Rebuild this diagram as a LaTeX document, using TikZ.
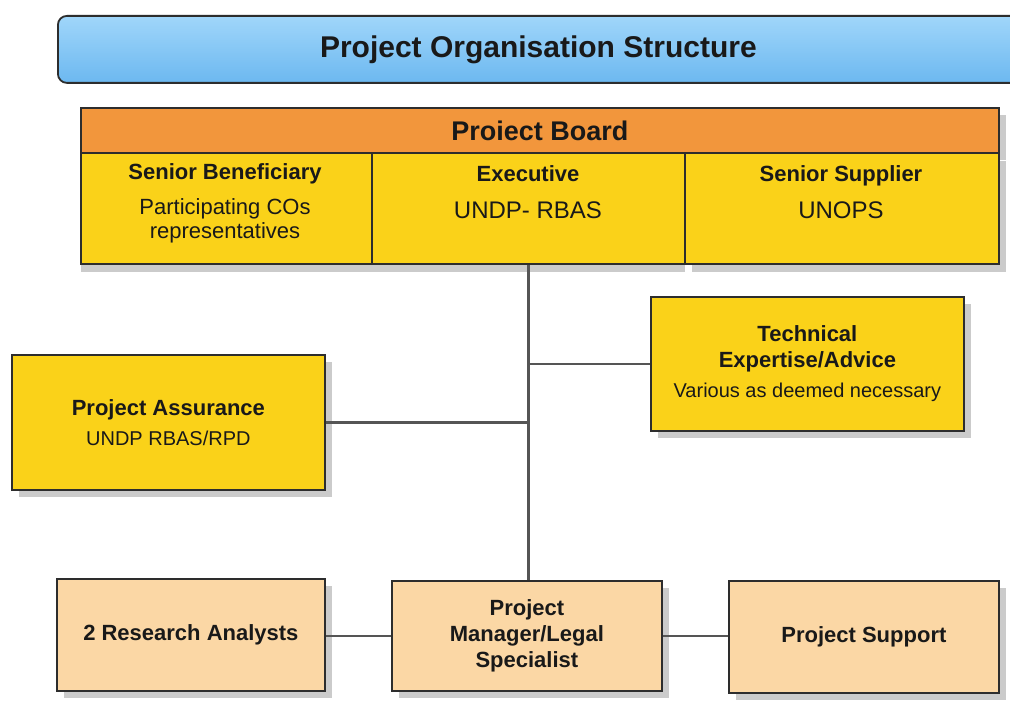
\documentclass[tikz,border=0pt]{standalone}
\usepackage{fontspec}
\setmainfont{Liberation Sans}
\usetikzlibrary{shadows}
\definecolor{tblueT}{RGB}{160,214,250}
\definecolor{tblueB}{RGB}{108,184,240}
\definecolor{orhead}{RGB}{242,150,60}
\definecolor{ybox}{RGB}{250,210,25}
\definecolor{pbox}{RGB}{251,215,165}
\definecolor{edgec}{RGB}{45,45,45}
\definecolor{lineg}{RGB}{85,85,85}
\newcommand\bfxx{\fontsize{22}{26}\selectfont\bfseries}
\newcommand\rgxx{\fontsize{20}{24}\selectfont\mdseries}
\begin{document}
\begin{tikzpicture}[x=1pt,y=-1pt,
  boxbase/.style={draw=edgec, line width=1.8pt, inner sep=0pt, anchor=north west, align=center,
    font=\bfxx, text=black!90,
    drop shadow={shadow xshift=7pt, shadow yshift=-7pt, fill=black!40, opacity=0.5}},
  ybx/.style={boxbase, fill=ybox},
  pbx/.style={boxbase, fill=pbox},
  cell/.style={draw=edgec, line width=1.8pt, inner sep=0pt, anchor=north west, fill=ybox},
  lblb/.style={font=\bfxx, text=black!90, inner sep=0pt, align=center},
  lblr/.style={font=\fontsize{22}{24}\selectfont, text=black!90, inner sep=0pt, align=center},
  lblr24/.style={font=\fontsize{24}{28}\selectfont, text=black!90, inner sep=0pt, align=center},
  conn/.style={draw=lineg, line width=2.2pt}]
\clip (0,0) rectangle (1010,701);
\fill[white] (0,0) rectangle (1010,701);

% title bar
\node[draw=edgec, line width=1.8pt, rounded corners=9pt, top color=tblueT, bottom color=tblueB,
  minimum width=961pt, minimum height=67pt, anchor=north west, inner sep=0pt,
  font=\fontsize{30}{36}\selectfont\bfseries, text=black!90] (title) at (57,15) {Project Organisation Structure};

% project board
\node[draw=edgec, line width=1.8pt, inner sep=0pt, anchor=north west, fill=orhead,
  minimum width=918pt, minimum height=45pt, font=\fontsize{27}{32}\selectfont\bfseries, text=black!90,
  drop shadow={shadow xshift=7pt, shadow yshift=-7pt, fill=black!40, opacity=0.5}] (board) at (80,107) {Proiect Board};
\node[cell, minimum width=291pt, minimum height=111pt,
  drop shadow={shadow xshift=0pt, shadow yshift=-8pt, fill=black!40, opacity=0.5}] (sb) at (80,152) {};
\node[cell, minimum width=313pt, minimum height=111pt,
  drop shadow={shadow xshift=0pt, shadow yshift=-8pt, fill=black!40, opacity=0.5}] (ex) at (371,152) {};
\node[cell, minimum width=314pt, minimum height=111pt,
  drop shadow={shadow xshift=7pt, shadow yshift=-8pt, fill=black!40, opacity=0.5}] (ss) at (684,152) {};

\node[lblb] (sbt) at (225,174) {Senior Beneficiary};
\node[lblr] (sbd) at (225,221) {Participating COs\\representatives};
\node[lblb] (ext) at (528,174) {Executive};
\node[lblr24] (exd) at (528,210) {UNDP- RBAS};
\node[lblb] (sst) at (841,176) {Senior Supplier};
\node[lblr24] (ssd) at (841,210) {UNOPS};

% side boxes
\node[ybx, minimum width=313pt, minimum height=134pt] (tech) at (650,296)
  {Technical\\Expertise/Advice\\[4pt]{\rgxx Various as deemed necessary}};
\node[ybx, minimum width=313pt, minimum height=135pt] (assure) at (11,354)
  {Project Assurance\\[4pt]{\rgxx UNDP RBAS/RPD}};

% bottom row
\node[pbx, minimum width=268pt, minimum height=112pt] (ra) at (56,578) {2 Research Analysts};
\node[pbx, minimum width=270pt, minimum height=110pt] (pm) at (391,580) {Project\\Manager/Legal\\Specialist};
\node[pbx, minimum width=270pt, minimum height=112pt] (ps) at (728,580) {Project Support};

% connectors
\draw[conn] (ex.south) -- (ex.south |- pm.north);
\draw[conn] (ex.south |- tech.west) -- (tech.west);
\draw[conn] (assure.east) -- (assure.east -| ex.south);
\draw[conn] (pm.west -| ra.east) -- (pm.west);
\draw[conn] (pm.east) -- (pm.east -| ps.west);
\end{tikzpicture}
\end{document}
